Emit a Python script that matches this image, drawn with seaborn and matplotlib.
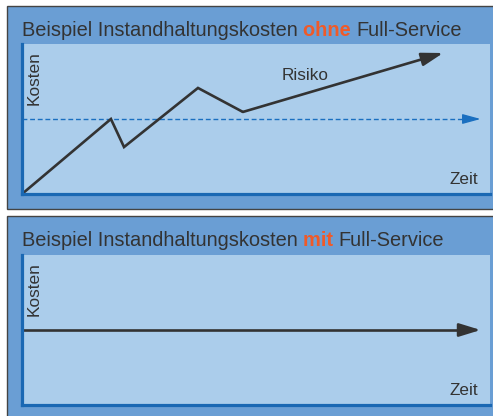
import matplotlib
matplotlib.use("Agg")
import matplotlib.pyplot as plt
from matplotlib.patches import Rectangle
import seaborn as sns

sns.set_style("white")
plt.rcParams['font.family'] = ['Liberation Sans', 'DejaVu Sans']

zeit_ohne = [0, 19.0, 21.8, 37.6, 47.2]
kosten_ohne = [0, 50.0, 31.3, 70.7, 54.7]
risiko_spitze = (90.0, 94.0)        # Pfeilspitze der Risiko-Kurve
budget_zeit = [0, 95]
budget_kosten = [50, 50]
budget_spitze = (98.0, 50.0)
mit_zeit = [0, 94]
mit_kosten = [50, 50]
mit_spitze = (98.0, 50.0)

titel_teile = [("Beispiel Instandhaltungskosten", "ohne", "Full-Service"),
               ("Beispiel Instandhaltungskosten", "mit", "Full-Service")]

aussen = '#6a9ed4'
innen = '#abcdeb'
achse = '#1a68b3'
schwarz = '#333333'
orange = '#f05a28'
blau = '#1a6fc0'

W, H = 493, 416
fig = plt.figure(figsize=(W / 100, H / 100), dpi=100)
fig.patch.set_facecolor('white')

def px(x0, y0, x1, y1):
    # Pixel-Box -> figure fraction [left, bottom, width, height]
    return [x0 / W, 1 - y1 / H, (x1 - x0) / W, (y1 - y0) / H]

panels = [dict(box=(7, 6, 520, 209), ax=(22, 44, 490, 194), base=36),
          dict(box=(7, 216, 520, 430), ax=(22, 255, 490, 405), base=246.5)]

axes = []
for i, p in enumerate(panels):
    l, b, w, h = px(*p['box'])
    fig.patches.append(Rectangle((l, b), w, h, transform=fig.transFigure,
                                 facecolor=aussen, edgecolor='#444444', lw=1.0, zorder=-5))
    ax = fig.add_axes(px(*p['ax']), zorder=2)
    ax.set_facecolor(innen)
    ax.set_xlim(0, 100)
    ax.set_ylim(0, 100)
    ax.set_xticks([])
    ax.set_yticks([])
    for s in ['top', 'right']:
        ax.spines[s].set_visible(False)
    for s in ['left', 'bottom']:
        ax.spines[s].set_color(achse)
        ax.spines[s].set_linewidth(2.3)
    ax.text(2.6, 95.5, "Kosten", rotation=90, ha='center', va='top',
            fontsize=12.4, color=schwarz)
    ax.text(97.4, 4.5, "Zeit", ha='right', va='bottom', fontsize=12.3, color=schwarz)

    # Titel mit farbigem Wort
    a, mid, c = titel_teile[i]
    t1 = ax.annotate(a + " ", xy=(22 / W, 1 - p['base'] / H), xycoords='figure fraction',
                     fontsize=14.45, color=schwarz, va='baseline', ha='left',
                     annotation_clip=False)
    t2 = ax.annotate(mid + " ", xy=(1, 0), xycoords=t1, va='bottom', ha='left',
                     fontsize=14.45, color=orange, weight='bold', annotation_clip=False)
    ax.annotate(c, xy=(1, 0), xycoords=t2, va='bottom', ha='left',
                fontsize=14.45, color=schwarz, annotation_clip=False)
    axes.append(ax)

ax1, ax2 = axes

# oben: ohne Full-Service
sns.lineplot(x=budget_zeit, y=budget_kosten, ax=ax1, color=blau, lw=1.0,
             linestyle=(0, (3.5, 2)))
ax1.annotate("", xy=budget_spitze, xytext=(budget_zeit[-1] - 0.5, budget_kosten[-1]),
             arrowprops=dict(arrowstyle='-|>,head_length=1.1,head_width=0.3',
                             color=blau, lw=1.0, shrinkA=0, shrinkB=0, mutation_scale=10))
sns.lineplot(x=zeit_ohne, y=kosten_ohne, ax=ax1, color=schwarz, lw=1.9,
             sort=False, solid_joinstyle='miter', solid_capstyle='butt')
ax1.annotate("", xy=risiko_spitze, xytext=(zeit_ohne[-1], kosten_ohne[-1]),
             arrowprops=dict(arrowstyle='-|>,head_length=1.3,head_width=0.4',
                             color=schwarz, lw=1.9, shrinkA=0, shrinkB=0, mutation_scale=10))
ax1.text(60.5, 78.7, "Risiko", ha='center', va='center', fontsize=12.3, color=schwarz)

# unten: mit Full-Service
sns.lineplot(x=mit_zeit, y=mit_kosten, ax=ax2, color=schwarz, lw=1.9)
ax2.annotate("", xy=mit_spitze, xytext=(mit_zeit[-1] - 0.5, mit_kosten[-1]),
             arrowprops=dict(arrowstyle='-|>,head_length=1.3,head_width=0.4',
                             color=schwarz, lw=1.9, shrinkA=0, shrinkB=0, mutation_scale=10))

fig.savefig("out.png", dpi=100)
